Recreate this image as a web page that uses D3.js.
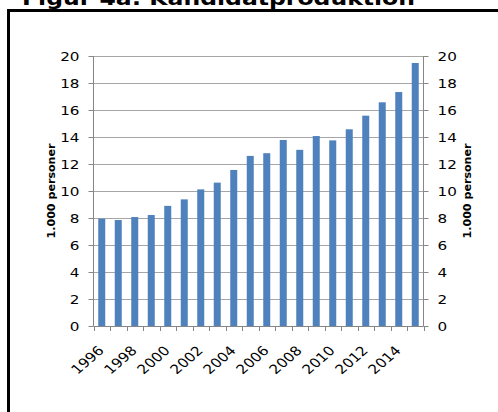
<!DOCTYPE html>
<html>
<head>
<meta charset="utf-8">
<script src="https://cdn.jsdelivr.net/npm/d3@7"></script>
<style>
  html, body { margin: 0; padding: 0; background: #fff; }
  svg { display: block; }
</style>
</head>
<body>
<svg id="chart" width="498" height="412"></svg>
<script>
const years = [1996,1997,1998,1999,2000,2001,2002,2003,2004,2005,2006,2007,2008,2009,2010,2011,2012,2013,2014,2015];
const values = [7.95,7.85,8.07,8.22,8.9,9.38,10.12,10.62,11.56,12.6,12.8,13.78,13.05,14.07,13.75,14.57,15.58,16.57,17.33,19.48];
const yTicks = [0,2,4,6,8,10,12,14,16,18,20];
const xTickLabels = ["1996","1998","2000","2002","2004","2006","2008","2010","2012","2014"];
const title = "Figur 4a: Kandidatproduktion";
const axisTitle = "1.000 personer";

const svg = d3.select("#chart");
const pLeft = 93.5, pRight = 423.5, pTop = 56, pBottom = 326;
const font = "DejaVu Sans, Verdana, sans-serif";
const axisColor = "#868686";
const sx = 1.17; // horizontal stretch of the source text

// frame
svg.append("rect").attr("x", 8.5).attr("y", 10.5).attr("width", 520).attr("height", 420)
  .attr("fill", "none").attr("stroke", "#000").attr("stroke-width", 3);

// title (cropped at top as in the source)
svg.append("text").attr("x", 22).attr("y", 5).text(title)
  .attr("font-family", font).attr("font-weight", "bold")
  .attr("font-size", 20).attr("fill", "#000")
  .attr("textLength", 393).attr("lengthAdjust", "spacingAndGlyphs");

const x = d3.scaleBand().domain(years).range([pLeft, pRight]).paddingInner(0).paddingOuter(0);
const y = d3.scaleLinear().domain([0, 20]).range([pBottom, pTop]);

// gridlines
svg.append("g").selectAll("line").data(yTicks.filter(d => d > 0)).join("line")
  .attr("x1", pLeft).attr("x2", pRight)
  .attr("y1", d => Math.round(y(d)) + 0.5).attr("y2", d => Math.round(y(d)) + 0.5)
  .attr("stroke", "#A6A6A6").attr("stroke-width", 1);

// bars
const bw = 7;
svg.append("g").selectAll("rect").data(years).join("rect")
  .attr("x", (d) => x(d) + x.bandwidth() / 2 - bw / 2)
  .attr("width", bw)
  .attr("y", (d, i) => y(values[i]))
  .attr("height", (d, i) => y(0) - y(values[i]))
  .attr("fill", "#4F81BD");

// left / right axes (lines + ticks)
const yAxisL = d3.axisLeft(y).tickValues(yTicks).tickSize(5).tickFormat("");
const gL = svg.append("g").attr("transform", `translate(${pLeft},0)`).call(yAxisL);
const yAxisR = d3.axisRight(y).tickValues(yTicks).tickSize(5).tickFormat("");
const gR = svg.append("g").attr("transform", `translate(${pRight},0)`).call(yAxisR);
[gL, gR].forEach(g => {
  g.select(".domain").attr("stroke", axisColor).attr("d", `M0,${pTop}V${pBottom}`);
  g.selectAll(".tick line").attr("stroke", axisColor);
  g.selectAll(".tick text").remove();
});

// y tick labels
svg.append("g").selectAll("text").data(yTicks).join("text")
  .attr("transform", d => `translate(${pLeft - 14},${y(d)}) scale(${sx},1)`)
  .attr("text-anchor", "end").attr("dy", "0.35em")
  .attr("font-family", font).attr("font-size", 13).attr("fill", "#000")
  .text(d => d);
svg.append("g").selectAll("text").data(yTicks).join("text")
  .attr("transform", d => `translate(${pRight + 14},${y(d)}) scale(${sx},1)`)
  .attr("text-anchor", "start").attr("dy", "0.35em")
  .attr("font-family", font).attr("font-size", 13).attr("fill", "#000")
  .text(d => d);

// bottom axis: ticks at band boundaries
const bounds = years.map(d => x(d)).concat([pRight]);
svg.append("line").attr("x1", pLeft).attr("x2", pRight).attr("y1", pBottom + 0.5).attr("y2", pBottom + 0.5)
  .attr("stroke", axisColor);
svg.append("g").selectAll("line").data(bounds).join("line")
  .attr("x1", d => Math.round(d) + 0.5).attr("x2", d => Math.round(d) + 0.5)
  .attr("y1", pBottom).attr("y2", pBottom + 5).attr("stroke", axisColor);

// x labels
svg.append("g").selectAll("text").data(xTickLabels).join("text")
  .attr("transform", d => `translate(${x(+d) + x.bandwidth() / 2 - 4.5},${pBottom + 19}) scale(${sx},1) rotate(-45)`)
  .attr("text-anchor", "end").attr("dy", "0.71em")
  .attr("font-family", font).attr("font-size", 13).attr("fill", "#000")
  .text(d => d);

// axis titles
[[51, 191], [467, 191]].forEach(([cx, cy]) => {
  svg.append("text").attr("transform", `translate(${cx},${cy}) rotate(-90)`)
    .attr("text-anchor", "middle").attr("dy", "0.35em")
    .attr("font-family", font).attr("font-weight", "bold").attr("font-size", 10.5).attr("fill", "#000")
    .attr("textLength", 95).attr("lengthAdjust", "spacingAndGlyphs")
    .text(axisTitle);
});
</script>
</body>
</html>
